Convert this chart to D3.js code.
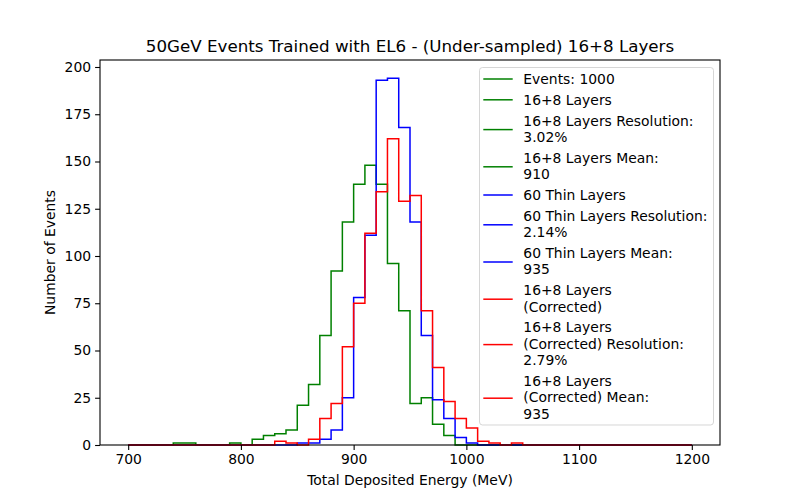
<!DOCTYPE html>
<html>
<head>
<meta charset="utf-8">
<script src="https://cdn.jsdelivr.net/npm/d3@7"></script>
<style>
  body { margin: 0; background: #fff; }
  text { font-family: "DejaVu Sans", sans-serif; }
</style>
</head>
<body>
<div id="chart"></div>
<script>
// histogram bins: 10 MeV wide, 700 -> 1200
const binStart = 700;
const binEnd = 1200;
const binWidth = 10;

// counts per bin
const layers16p8 = [
  0, 0, 0, 0, 1, 1, 0, 0, 0, 1,
  0, 3, 5, 6, 8, 21, 32, 58, 92, 118,
  138, 148, 138, 96, 71, 22, 25, 11, 5, 0,
  0, 0, 0, 0, 0, 0, 0, 0, 0, 0,
  0, 0, 0, 0, 0, 0, 0, 0, 0, 0
];
const thin60 = [
  0, 0, 0, 0, 0, 0, 0, 0, 0, 0,
  0, 0, 0, 0, 0, 1, 1, 3, 8, 25,
  78, 111, 193, 194, 168, 118, 58, 24, 14, 4,
  1, 0, 0, 0, 0, 0, 0, 0, 0, 0,
  0, 0, 0, 0, 0, 0, 0, 0, 0, 0
];
const corrected16p8 = [
  0, 0, 0, 0, 0, 0, 0, 0, 0, 0,
  0, 0, 0, 2, 1, 0, 3, 14, 22, 52,
  75, 112, 134, 162, 129, 132, 71, 41, 23, 14,
  9, 2, 1, 0, 1, 0, 0, 0, 0, 0,
  0, 0, 0, 0, 0, 0, 0, 0, 0, 0
];

const xTicks = [700, 800, 900, 1000, 1100, 1200];
const yTicks = [0, 25, 50, 75, 100, 125, 150, 175, 200];

const legendLabels = [
  ["Events: 1000"],
  ["16+8 Layers"],
  ["16+8 Layers Resolution:", "3.02%"],
  ["16+8 Layers Mean:", "910"],
  ["60 Thin Layers"],
  ["60 Thin Layers Resolution:", "2.14%"],
  ["60 Thin Layers Mean:", "935"],
  ["16+8 Layers", "(Corrected)"],
  ["16+8 Layers", "(Corrected) Resolution:", "2.79%"],
  ["16+8 Layers", "(Corrected) Mean:", "935"]
];
const legendColors = ["green", "green", "green", "green", "blue", "blue", "blue", "red", "red", "red"];

const width = 800;
const height = 500;
const margin = {top: 60, right: 80, bottom: 55, left: 100};

const svg = d3.select("#chart")
  .append("svg")
  .attr("width", width)
  .attr("height", height)
  .attr("viewBox", [0, 0, width, height]);

const x = d3.scaleLinear()
  .domain([675, 1225])
  .range([margin.left, width - margin.right]);

const yMax = d3.max([layers16p8, thin60, corrected16p8].flat()) * 1.05;
const y = d3.scaleLinear()
  .domain([0, yMax])
  .range([height - margin.bottom, margin.top]);

const edges = d3.range(binStart, binEnd + binWidth, binWidth);

function stepPoints(counts) {
  const pts = [[binStart, 0]];
  counts.forEach((c, i) => pts.push([edges[i], c]));
  pts.push([binEnd, counts[counts.length - 1]]);
  pts.push([binEnd, 0]);
  return pts;
}

const line = d3.line()
  .x(d => x(d[0]))
  .y(d => y(d[1]))
  .curve(d3.curveStepAfter);

const series = [
  {counts: layers16p8, color: "green"},
  {counts: thin60, color: "blue"},
  {counts: corrected16p8, color: "red"}
];

svg.append("g")
  .selectAll("path")
  .data(series)
  .join("path")
  .attr("d", d => line(stepPoints(d.counts)))
  .attr("fill", "none")
  .attr("stroke", d => d.color)
  .attr("stroke-width", 1.5)
  .attr("stroke-linejoin", "miter");

function xAxis(g) {
  g.attr("transform", `translate(0, ${height - margin.bottom})`)
    .call(d3.axisBottom(x).tickValues(xTicks).tickFormat(d3.format("d")).tickSize(4.9).tickPadding(4).tickSizeOuter(0))
    .attr("font-size", "13.9px")
    .attr("font-family", "DejaVu Sans")
    .call(g => g.select(".domain").remove())
    .call(g => g.selectAll(".tick line").attr("stroke-width", 1.1))
    .call(g => g.selectAll(".tick text").attr("fill", "#000"));
}

function yAxis(g) {
  g.attr("transform", `translate(${margin.left}, 0)`)
    .call(d3.axisLeft(y).tickValues(yTicks).tickFormat(d3.format("d")).tickSize(4.9).tickPadding(4).tickSizeOuter(0))
    .attr("font-size", "13.9px")
    .attr("font-family", "DejaVu Sans")
    .call(g => g.select(".domain").remove())
    .call(g => g.selectAll(".tick line").attr("stroke-width", 1.1))
    .call(g => g.selectAll(".tick text").attr("fill", "#000"));
}

svg.append("g").call(xAxis);
svg.append("g").call(yAxis);

// axes frame
svg.append("rect")
  .attr("x", margin.left)
  .attr("y", margin.top)
  .attr("width", width - margin.left - margin.right)
  .attr("height", height - margin.top - margin.bottom)
  .attr("fill", "none")
  .attr("stroke", "#000")
  .attr("stroke-width", 1.1);

// title and labels
svg.append("text")
  .attr("x", (margin.left + width - margin.right) / 2)
  .attr("y", 51.5)
  .attr("text-anchor", "middle")
  .attr("font-size", "16.7px")
  .text("50GeV Events Trained with EL6 - (Under-sampled) 16+8 Layers");

svg.append("text")
  .attr("x", (margin.left + width - margin.right) / 2)
  .attr("y", 485)
  .attr("text-anchor", "middle")
  .attr("font-size", "13.9px")
  .text("Total Deposited Energy (MeV)");

svg.append("text")
  .attr("transform", `translate(55, ${(margin.top + height - margin.bottom) / 2}) rotate(-90)`)
  .attr("text-anchor", "middle")
  .attr("font-size", "13.9px")
  .text("Number of Events");

// legend
const legend = svg.append("g");
legend.append("rect")
  .attr("x", 479.5)
  .attr("y", 67.5)
  .attr("width", 234)
  .attr("height", 357.5)
  .attr("rx", 3)
  .attr("fill", "#fff")
  .attr("fill-opacity", 0.8)
  .attr("stroke", "#cccccc")
  .attr("stroke-opacity", 0.8)
  .attr("stroke-width", 1);

const linePitch = 16.4;
const entryGap = 20.8;
let cy = 79;
legendLabels.forEach((lines, i) => {
  const centers = lines.map((_, j) => cy + j * linePitch);
  const hy = d3.mean(centers) + (lines.length > 1 ? 0.8 : 0);
  legend.append("line")
    .attr("x1", 483.3)
    .attr("x2", 512.7)
    .attr("y1", hy)
    .attr("y2", hy)
    .attr("stroke", legendColors[i])
    .attr("stroke-width", 1.5);
  lines.forEach((t, j) => {
    legend.append("text")
      .attr("x", 523.3)
      .attr("y", centers[j] + 5)
      .attr("font-size", "13.9px")
      .attr("fill", "#000")
      .text(t);
  });
  cy = centers[centers.length - 1] + entryGap;
});
</script>
</body>
</html>
